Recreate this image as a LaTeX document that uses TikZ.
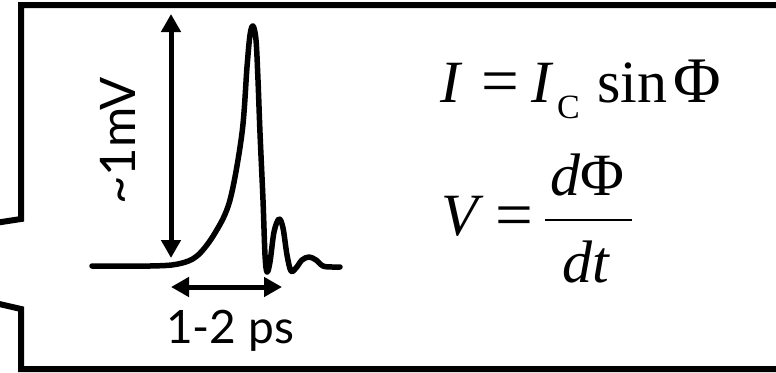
\documentclass[tikz,border=0pt]{standalone}
\usepackage{fontspec}
\setmainfont{Liberation Serif}
\newfontfamily\lblfont{Lato}
\usetikzlibrary{arrows.meta}
\begin{document}
\begin{tikzpicture}[x=1pt,y=-1pt,
  frame/.style={line width=6pt, miter limit=10},
  wave/.style={line width=5.5pt, line join=round, line cap=round},
  dimarrow/.style={line width=5pt, {Triangle[width=19pt,length=18pt]}-{Triangle[width=19pt,length=18pt]}},
  lbl/.style={inner sep=0pt, font=\lblfont\fontsize{46}{46}\selectfont},
  eq/.style={inner sep=0pt, anchor=base west, font=\fontsize{60}{60}\selectfont},
  eqit/.style={eq, font=\fontsize{60}{60}\selectfont\itshape},
  eqsign/.style={eq, font=\fontsize{67}{67}\selectfont},
]
\useasboundingbox (0,0) rectangle (776,372);
% callout frame
\draw[frame] (-5,223) -- (21,219) -- (21,5) -- (790,5);
\draw[frame] (-5,303) -- (21,309) -- (21,369) -- (790,369);
% pulse
\draw[wave] plot[smooth, tension=0.55] coordinates {(92,266) (150,266) (178,264) (197,256) (215,233) (230,200) (242,133) (247,67) (250,35) (253,26) (256,40) (258,80) (260,133) (263,200) (265,255) (267,272) (270,262) (274,232) (279,219) (283,228) (287,255) (291,271) (296,268) (302,260) (309,257) (316,260) (323,266) (332,267) (340,267)};
% dimension arrows
\coordinate (vtop) at (171,14);
\coordinate (vbot) at (171,258);
\draw[dimarrow] (vtop) -- (vbot);
\coordinate (hleft) at (171,287);
\coordinate (hright) at (282,287);
\draw[dimarrow] (hleft) -- (hright);
% labels
\node[lbl, font=\lblfont\fontsize{49}{49}\selectfont, rotate=90, anchor=base] (mvlabel) at (135,141) {\textasciitilde 1mV};
\node[lbl, anchor=base] (pslabel) at (230,343) {1-2 ps};
% equation 1
\node[eqit] (i1) at (440,102) {I};
\node[eqsign] (eq1) at (481,103) {=};
\node[eqit] (i2) at (531,102) {I};
\node[eq, font=\fontsize{34}{34}\selectfont] (sub) at (557,118) {C};
\node[eq] (sin) at (597,102) {sin};
\node[eq, font=\fontsize{65}{65}\selectfont] (phi) at (673,102) {Φ};
% equation 2
\node[eqit] (v) at (441,235) {V};
\node[eqsign] (eq2) at (495,237) {=};
\node[eq] (num) at (550,195) {\itshape d\upshape Φ};
\coordinate (fracL) at (545,220);
\coordinate (fracR) at (632,220);
\draw[line width=2.5pt] (fracL) -- (fracR);
\node[eq] (den) at (562,282) {\itshape dt};
\end{tikzpicture}
\end{document}
